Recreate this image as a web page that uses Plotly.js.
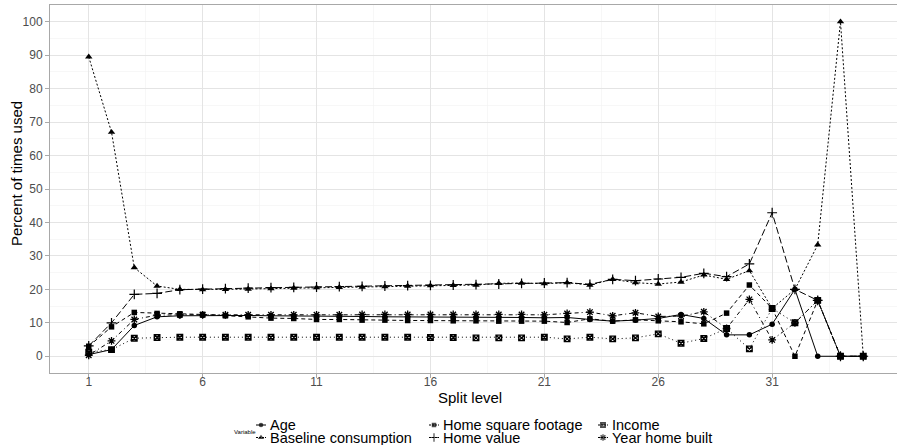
<!DOCTYPE html>
<html>
<head>
<meta charset="utf-8">
<script src="https://cdn.plot.ly/plotly-3.0.1.min.js"></script>
<style>
html,body{margin:0;padding:0;overflow:hidden;background:#fff;width:897px;height:445px;}
#chart{width:910px;height:445px;}
</style>
</head>
<body>
<div id="chart"></div>
<script>
// ---- data ----
var splitLevel = [1,2,3,4,5,6,7,8,9,10,11,12,13,14,15,16,17,18,19,20,21,22,23,24,25,26,27,28,29,30,31,32,33,34,35];
var seriesNames = ["Age","Baseline consumption","Home square footage","Home value","Income","Year home built"];
var age = [0.5,2.0,9.2,11.8,12.1,12.2,12.2,12.2,12.1,12.1,12.0,12.0,11.9,11.8,11.8,11.8,11.7,11.7,11.7,11.6,11.5,11.6,11.0,10.5,10.8,11.3,12.5,11.3,6.4,6.4,9.6,20.0,0,0,0];
var baseline = [89.5,67.0,26.5,21.0,20.0,19.9,20.0,20.1,20.2,20.4,20.5,20.6,20.7,20.8,21.0,21.1,21.2,21.3,21.8,21.9,21.7,22.0,21.3,23.0,22.0,21.6,22.2,24.3,23.0,25.6,14.3,20.0,33.3,100,0];
var homeSqft = [3.0,8.8,13.1,12.8,12.7,12.5,12.1,11.8,11.4,11.3,11.0,11.0,10.8,10.8,10.7,10.7,10.6,10.6,10.5,10.5,10.5,10.1,11.2,10.5,10.9,10.6,10.3,9.7,12.9,21.3,14.3,0,16.7,0,0];
var homeValue = [3.1,10.0,18.5,18.8,19.9,20.1,20.2,20.4,20.5,20.6,20.7,20.8,20.9,21.0,21.1,21.2,21.3,21.4,21.6,21.8,21.9,22.0,21.5,23.0,22.6,23.1,23.6,24.8,23.8,27.6,42.9,20.0,16.7,0,0];
var income = [1.2,2.0,5.4,5.6,5.7,5.7,5.7,5.7,5.7,5.7,5.7,5.7,5.7,5.7,5.7,5.6,5.6,5.5,5.5,5.5,5.7,5.2,5.7,5.2,5.5,6.7,3.9,5.3,8.3,2.2,14.3,10.0,16.7,0,0];
var yearBuilt = [0.3,4.6,11.0,12.3,12.4,12.4,12.4,12.4,12.4,12.4,12.4,12.4,12.5,12.5,12.5,12.5,12.5,12.5,12.5,12.5,12.4,12.8,13.2,12.1,13.0,11.9,12.0,13.3,8.3,17.0,4.9,10.0,16.7,0,0];
var xTicks = [1,6,11,16,21,26,31];
var yTicks = [0,10,20,30,40,50,60,70,80,90,100];
var xTitle = "Split level";
var yTitle = "Percent of times used";
var legendTitle = "Variable";

var seriesValues = [age, baseline, homeSqft, homeValue, income, yearBuilt];

// ---- styles ----
var styles = [
  {dash:"solid",        symbol:"circle",          size:5.5, lw:0},
  {dash:"2px,2px",      symbol:"triangle-up",     size:6.5, lw:0},
  {dash:"4px,3px",      symbol:"square",          size:5.5, lw:0},
  {dash:"7px,3px",      symbol:"cross-thin-open", size:7,   lw:1.2},
  {dash:"1px,3px",      symbol:"square-x-open",   size:5.5, lw:1.4},
  {dash:"1px,3px,4px,3px", symbol:"asterisk-open", size:6.5, lw:1.3}
];

var FONT = "Liberation Sans, Arial, Helvetica, sans-serif";
var W = 910, H = 445, ML = 50, MR = 8, MT = 5, MB = 0;
function px2paperX(px){ return (px - ML) / (W - ML - MR); }
function px2paperY(py){ return (H - MB - py) / (H - MT - MB); }

var traces = [];
seriesValues.forEach(function(vals, i){
  var s = styles[i];
  traces.push({
    type:"scatter", mode:"lines+markers", name:seriesNames[i],
    x:splitLevel, y:vals, xaxis:"x", yaxis:"y",
    line:{color:"#000", width:1, dash:s.dash},
    marker:{color:"#000", symbol:s.symbol, size:s.size, line:{color:"#000", width:s.lw}},
    showlegend:false, hoverinfo:"x+y+name"
  });
});

// ---- custom legend (3 columns x 2 rows, column-major) ----
var keyCenters = [261, 434, 603];
var rowY = [425, 437.5];
var annotations = [];
seriesNames.forEach(function(nm, i){
  var col = Math.floor(i/2), row = i % 2;
  var cx = keyCenters[col], cy = rowY[row];
  var s = styles[i];
  traces.push({
    type:"scatter", mode:"lines+markers", xaxis:"x2", yaxis:"y2",
    x:[cx-5, cx, cx+5], y:[cy, cy, cy],
    line:{color:"#000", width:1, dash:(s.dash==="solid"?"solid":"2px,1px")},
    marker:{color:"#000", symbol:s.symbol, size:[0, s.size-1, 0], line:{color:"#000", width:s.lw}},
    showlegend:false, hoverinfo:"skip"
  });
  annotations.push({
    xref:"x2", yref:"y2", x:cx+7, y:cy, xanchor:"left", yanchor:"middle",
    text:nm, showarrow:false, font:{family:FONT, size:14.5, color:"#000"}
  });
});
annotations.push({
  xref:"x2", yref:"y2", x:232, y:432, xanchor:"left", yanchor:"middle",
  text:legendTitle, showarrow:false, font:{family:FONT, size:6, color:"#000"}
});
// axis titles placed like the reference
annotations.push({
  xref:"paper", yref:"paper", x:px2paperX(17), y:px2paperY(174), xanchor:"center", yanchor:"middle", textangle:-90,
  text:yTitle, showarrow:false, font:{family:FONT, size:15, color:"#000"}
});
annotations.push({
  xref:"paper", yref:"paper", x:px2paperX(470), y:px2paperY(397), xanchor:"center", yanchor:"middle",
  text:xTitle, showarrow:false, font:{family:FONT, size:15, color:"#000"}
});

var minorX = [], minorY = [];
for (var k = 0; k < xTicks.length; k++) { minorX.push(xTicks[k] + 2.5); }
for (var j = 0; j < yTicks.length; j++) { minorY.push(yTicks[j] + 5); }

var layout = {
  width:W, height:H,
  margin:{l:ML, r:MR, t:MT, b:MB},
  paper_bgcolor:"#fff", plot_bgcolor:"rgba(0,0,0,0)",
  font:{family:FONT, color:"#000"},
  showlegend:false,
  xaxis:{
    domain:[0,1], anchor:"y", range:[-0.7, 36.7], autorange:false,
    tickvals:xTicks, ticktext:xTicks.map(String),
    ticks:"outside", ticklen:4, tickwidth:1, tickcolor:"#aaaaaa",
    ticklabelstandoff:-6,
    tickfont:{family:FONT, size:12, color:"#4d4d4d"},
    showgrid:true, gridcolor:"#e4e4e4", gridwidth:1,
    minor:{tickvals:minorX, showgrid:true, gridcolor:"#f2f2f2", gridwidth:0.6, ticks:""},
    zeroline:false, showline:true, mirror:true, linecolor:"#a8a8a8", linewidth:1
  },
  yaxis:{
    domain:[72/440, 1], anchor:"x", range:[-5, 105], autorange:false,
    tickvals:yTicks, ticktext:yTicks.map(String),
    ticks:"outside", ticklen:4, tickwidth:1, tickcolor:"#aaaaaa",
    tickfont:{family:FONT, size:12, color:"#4d4d4d"},
    showgrid:true, gridcolor:"#e4e4e4", gridwidth:1,
    minor:{tickvals:minorY, showgrid:true, gridcolor:"#f2f2f2", gridwidth:0.6, ticks:""},
    zeroline:false, showline:true, mirror:true, linecolor:"#a8a8a8", linewidth:1
  },
  // small overlay axes in pixel units, below the panel, used only for the legend keys
  xaxis2:{domain:[0,1], anchor:"y2", range:[ML, W-MR], autorange:false, visible:false, fixedrange:true},
  yaxis2:{domain:[0, 0.1], anchor:"x2", range:[445, 401], autorange:false, visible:false, fixedrange:true},
  annotations:annotations
};

Plotly.newPlot("chart", traces, layout, {displayModeBar:false, staticPlot:true});
</script>
</body>
</html>
